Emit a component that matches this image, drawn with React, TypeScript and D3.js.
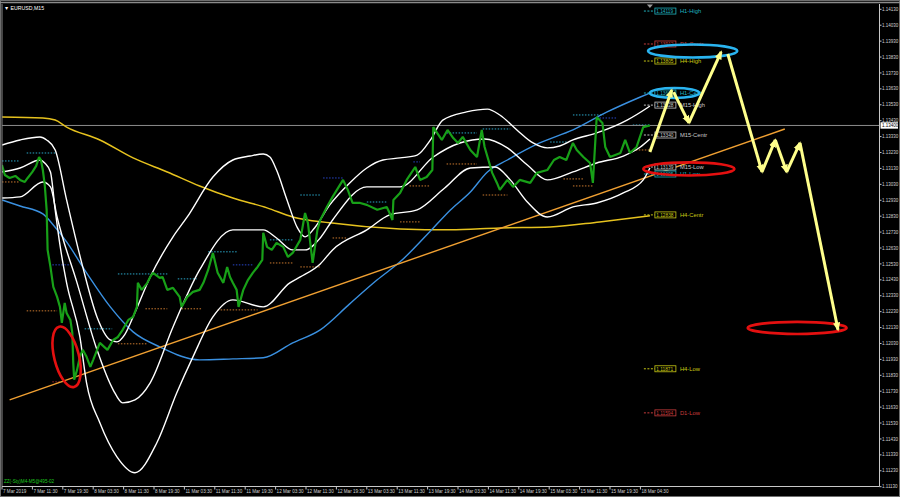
import React from "react";
import * as d3 from "d3";

type P = [number, number];

// ---------- DATA (x = M15 bar index from chart's left edge, y = price) ----------
const symbol = "EURUSD,M15";
const indicatorCaption = "ZZ(-Sty)M4-M5@495-02";

const timeLabels = [
  "7 Mar 2019", "7 Mar 11:30", "7 Mar 19:30", "8 Mar 03:30", "8 Mar 11:30", "8 Mar 19:30",
  "11 Mar 03:30", "11 Mar 11:30", "11 Mar 19:30", "12 Mar 03:30", "12 Mar 11:30", "12 Mar 19:30",
  "13 Mar 03:30", "13 Mar 11:30", "13 Mar 19:30", "14 Mar 03:30", "14 Mar 11:30", "14 Mar 19:30",
  "15 Mar 03:30", "15 Mar 11:30", "15 Mar 19:30", "18 Mar 04:30",
];
const timeLabelBars = [0, 32, 64, 96, 128, 160, 192, 224, 256, 288, 320, 352, 384, 416, 448, 480, 512, 544, 576, 608, 640, 672];

const priceTicks = [
  1.1113, 1.1123, 1.1133, 1.1143, 1.1153, 1.1163, 1.1173, 1.1183, 1.1193, 1.1203, 1.1213,
  1.1223, 1.1233, 1.1243, 1.1253, 1.1263, 1.1273, 1.1283, 1.1293, 1.1303, 1.1313,
  1.1323, 1.1333, 1.1343, 1.1353, 1.1363, 1.1373, 1.1383, 1.1393, 1.1403, 1.1413,
];

const closes: P[] = [
  [0, 1.13152], [3, 1.13089], [8, 1.1307], [14, 1.13083], [19, 1.13058], [24, 1.13045], [27, 1.1307],
  [32, 1.13108], [36, 1.13146], [39, 1.13202], [41, 1.13183], [43, 1.1312], [45, 1.13026], [47, 1.1287],
  [48, 1.12618], [51, 1.12511], [54, 1.12386], [58, 1.12323], [61, 1.1226], [63, 1.1216], [66, 1.12285],
  [68, 1.12222], [72, 1.12178], [74, 1.12096], [75, 1.11908], [76, 1.11802], [79, 1.11864], [82, 1.11946],
  [85, 1.1199], [89, 1.11946], [93, 1.11883], [96, 1.11927], [103, 1.12034], [111, 1.1199], [117, 1.12052],
  [122, 1.12071], [127, 1.12116], [133, 1.12178], [138, 1.12197], [142, 1.1226], [143, 1.12411], [147, 1.12367],
  [153, 1.12411], [156, 1.12448], [159, 1.12474], [166, 1.12442], [169, 1.12448], [174, 1.12367], [180, 1.1238],
  [187, 1.12323], [189, 1.1226], [195, 1.12323], [201, 1.12354], [208, 1.12367], [212, 1.12411], [217, 1.12492],
  [222, 1.12599], [227, 1.12474], [233, 1.12411], [237, 1.12511], [240, 1.12448], [243, 1.12411], [247, 1.12367],
  [249, 1.1226], [254, 1.12367], [259, 1.1243], [264, 1.12474], [269, 1.12511], [274, 1.12555], [275, 1.12725],
  [279, 1.12637], [284, 1.12618], [289, 1.12662], [296, 1.12637], [301, 1.12574], [306, 1.12599], [314, 1.12681],
  [319, 1.1285], [322, 1.12788], [327, 1.12536], [332, 1.12744], [335, 1.12806], [342, 1.12888], [348, 1.12951],
  [359, 1.13058], [364, 1.12995], [369, 1.12913], [377, 1.12913], [384, 1.12901], [395, 1.1287], [405, 1.12888],
  [408, 1.1285], [411, 1.12806], [412, 1.12932], [419, 1.12976], [426, 1.13058], [435, 1.13139], [440, 1.13058],
  [447, 1.13076], [453, 1.1312], [454, 1.1339], [458, 1.13353], [463, 1.13309], [469, 1.13372], [475, 1.13321],
  [480, 1.1329], [485, 1.13328], [493, 1.13246], [500, 1.13202], [505, 1.13372], [508, 1.13265], [516, 1.13102],
  [521, 1.13039], [524, 1.12995], [532, 1.13058], [538, 1.13014], [545, 1.13058], [556, 1.13039], [563, 1.13102],
  [574, 1.1312], [581, 1.13183], [587, 1.13202], [594, 1.13183], [601, 1.1329], [605, 1.13246], [612, 1.13202],
  [619, 1.13164], [622, 1.13039], [626, 1.13453], [632, 1.13416], [635, 1.13265], [640, 1.13202], [651, 1.13227],
  [656, 1.13309], [661, 1.13227], [668, 1.13265], [675, 1.1339], [682, 1.134],
];
const currentPrice = 1.134;

const bandUpper: P[] = [
  [0, 1.13277], [19, 1.13309], [40, 1.13328], [47, 1.13309], [56, 1.13246], [68, 1.12932], [85, 1.12511],
  [100, 1.12197], [114, 1.12052], [121, 1.1204], [129, 1.12084], [138, 1.12197], [156, 1.12448], [180, 1.127],
  [195, 1.12825], [222, 1.13076], [243, 1.13183], [261, 1.13208], [275, 1.13221], [282, 1.13202], [289, 1.1312],
  [300, 1.12932], [311, 1.12756], [319, 1.127], [329, 1.12756], [345, 1.12901], [366, 1.13039], [384, 1.13133],
  [401, 1.13183], [419, 1.13196], [437, 1.13214], [451, 1.13309], [464, 1.13434], [489, 1.13485], [511, 1.13503],
  [524, 1.13466], [542, 1.13372], [559, 1.1329], [574, 1.13259], [587, 1.13271], [601, 1.13309], [626, 1.13353],
  [658, 1.13434], [679, 1.1351], [682, 1.13522],
];
const bandMiddle: P[] = [
  [0, 1.12944], [19, 1.12951], [43, 1.13045], [51, 1.13014], [58, 1.12825], [79, 1.12411], [100, 1.1199],
  [117, 1.11739], [127, 1.11657], [140, 1.11676], [156, 1.11783], [180, 1.12134], [208, 1.12492], [243, 1.12744],
  [275, 1.12744], [289, 1.12693], [306, 1.12618], [319, 1.12618], [335, 1.12693], [348, 1.12806], [384, 1.13014],
  [419, 1.13014], [454, 1.13202], [482, 1.1329], [508, 1.13315], [532, 1.13259], [553, 1.13152], [574, 1.13058],
  [601, 1.13108], [626, 1.13164], [654, 1.13208], [672, 1.13265], [682, 1.13315],
];
const bandLower: P[] = [
  [0, 1.13108], [19, 1.13133], [40, 1.13183], [45, 1.13164], [51, 1.13108], [56, 1.12869], [61, 1.12649],
  [68, 1.12411], [82, 1.12071], [89, 1.11783], [103, 1.11532], [121, 1.11318], [140, 1.11218], [163, 1.11406],
  [184, 1.1172], [201, 1.11946], [222, 1.12197], [243, 1.12304], [275, 1.1226], [303, 1.12411], [314, 1.12448],
  [335, 1.1253], [348, 1.12618], [384, 1.12744], [408, 1.12838], [437, 1.1287], [466, 1.13007], [493, 1.13133],
  [519, 1.13139], [535, 1.13058], [553, 1.12919], [574, 1.12825], [601, 1.12888], [626, 1.12913], [654, 1.12976],
  [675, 1.13058], [682, 1.13133],
];
const maFast: P[] = [
  [0, 1.12932], [19, 1.12894], [43, 1.12844], [54, 1.12775], [68, 1.12668], [89, 1.12474], [114, 1.1226],
  [138, 1.12103], [166, 1.12009], [208, 1.11927], [243, 1.11933], [275, 1.1194], [306, 1.12034], [335, 1.12116],
  [366, 1.12279], [395, 1.1243], [419, 1.12543], [454, 1.12756], [472, 1.12869], [493, 1.12982], [511, 1.13108],
  [532, 1.13183], [566, 1.1329], [601, 1.13372], [637, 1.13485], [672, 1.13579], [682, 1.13604],
];
const maSlow: P[] = [
  [0, 1.13453], [43, 1.13447], [56, 1.13434], [68, 1.1339], [103, 1.13309], [138, 1.13196], [174, 1.13108],
  [208, 1.1302], [243, 1.12944], [279, 1.12882], [306, 1.12825], [345, 1.12788], [419, 1.1275], [472, 1.12744],
  [524, 1.12756], [577, 1.12762], [629, 1.12794], [682, 1.12832],
];
const trendLine: P[] = [[8, 1.11676], [824, 1.13378]];

// pivot-level segments: [startBar, endBar, price]
const cyanLevels: [number, number, number][] = [
  [0, 19, 1.13177], [26, 56, 1.13227], [87, 116, 1.12122], [122, 174, 1.12467], [185, 205, 1.12436],
  [217, 248, 1.12606], [282, 306, 1.12681], [314, 335, 1.12963], [384, 405, 1.12919], [468, 500, 1.13353],
  [506, 535, 1.13378], [577, 595, 1.13296], [601, 633, 1.13466], [664, 682, 1.13403],
];
const orangeLevels: [number, number, number][] = [
  [0, 19, 1.13045], [26, 58, 1.12235], [122, 153, 1.12028], [151, 174, 1.12248], [189, 211, 1.12248],
  [227, 269, 1.12241], [282, 306, 1.12536], [314, 335, 1.12511], [348, 363, 1.12693], [419, 440, 1.12794],
  [429, 451, 1.1302], [468, 500, 1.13158], [506, 532, 1.12963], [591, 612, 1.13064], [601, 622, 1.1302],
  [664, 682, 1.13246],
];
const blueLevels: [number, number, number][] = [
  [53, 72, 1.12524], [243, 264, 1.12524], [338, 359, 1.1307], [433, 440, 1.13171], [629, 647, 1.13447],
];
const redLevels: [number, number, number][] = [[53, 68, 1.11789]];

const pivotNames = ["H1-High", "D1-Centr", "H4-High", "H1-Centr", "M15-High", "M15-Centr", "M15-Low", "H1-Low", "H4-Centr", "H4-Low", "D1-Low"];
const pivotValues = [1.14119, 1.13912, 1.13805, 1.13604, 1.13528, 1.1334, 1.13139, 1.13095, 1.12838, 1.11871, 1.11594];

// forecast arrows: [fromBar, fromPrice, toBar, toPrice]
const arrows: [number, number, number, number][] = [
  [682, 1.13233, 705, 1.13623],
  [707, 1.1361, 723, 1.13416],
  [723, 1.13416, 757, 1.13862],
  [764, 1.13849, 800, 1.13108],
  [800, 1.13108, 814, 1.13309],
  [814, 1.13309, 826, 1.13108],
  [826, 1.13108, 840, 1.1329],
  [840, 1.1329, 880, 1.12116],
];
// ellipses: [centerBar, centerPrice, halfWidthBars, halfHeightPrice]
const cyanEllipses: [number, number, number, number][] = [
  [727, 1.13868, 47, 0.00041],
  [708, 1.13604, 26, 0.00031],
];
const redEllipses: [number, number, number, number][] = [
  [723, 1.13127, 48, 0.00041],
  [837, 1.12128, 52, 0.00038],
  [68, 1.11946, 13, 0.00195],
];

// ---------- STYLE ----------
const levelColor: Record<string, string> = {
  D1: "#c83c3c",
  H4: "#c8c814",
  H1: "#1fb4c0",
  M15: "#c8c8c8",
};
const FONT = "'Liberation Sans', Arial, sans-serif";

export default function App() {
  const x = d3.scaleLinear().domain([0, 924]).range([2, 879.8]);
  const y = d3.scaleLinear().domain([1.1113, 1.1413]).range([486.7, 9.3]);
  const plotL = 2, plotR = 879.5, plotT = 4, plotB = 486.5;

  const smooth = d3.line<P>().x((d) => x(d[0])).y((d) => y(d[1])).curve(d3.curveMonotoneX);
  const straight = d3.line<P>().x((d) => x(d[0])).y((d) => y(d[1]));

  const lastX = x(closes[closes.length - 1][0]);

  const segs = (arr: [number, number, number][], color: string, key: string) =>
    arr.map((s, i) => (
      <line key={key + i} x1={x(s[0])} x2={x(s[1])} y1={y(s[2])} y2={y(s[2])}
        stroke={color} strokeWidth={1} strokeDasharray="1.5,1.5" />
    ));

  const ell = (arr: [number, number, number, number][], color: string, key: string) =>
    arr.map((e, i) => {
      const cx = x(e[0]), cy = y(e[1]);
      const rx = x(e[0] + e[2]) - cx;
      const ry = y(e[1] - e[3]) - cy;
      const vertical = ry > rx;
      return (
        <ellipse key={key + i} cx={cx} cy={cy} rx={rx} ry={ry} fill="none" stroke={color} strokeWidth={2.6}
          transform={vertical ? `rotate(-14 ${cx} ${cy})` : undefined} />
      );
    });

  return (
    <svg width={900} height={497} style={{ display: "block", background: "#000" }} fontFamily={FONT}>
      <style>{`body{margin:0;background:#000;}`}</style>
      <defs>
        <clipPath id="plot">
          <rect x={plotL} y={plotT} width={plotR - plotL} height={plotB - plotT} />
        </clipPath>
        <marker id="ah" viewBox="0 0 10 10" refX="8" refY="5" markerWidth="9" markerHeight="9"
          markerUnits="userSpaceOnUse" orient="auto">
          <path d="M0,1 L10,5 L0,9 z" fill="#ffff8c" />
        </marker>
      </defs>
      <rect x={0} y={0} width={900} height={497} fill="#000" />
      {/* window border */}
      <rect x={0.5} y={0.5} width={899} height={496} fill="none" stroke="#6e6e6e" strokeWidth={1} />
      <line x1={0} x2={900} y1={2.5} y2={2.5} stroke="#8a8a8a" strokeWidth={1.5} />

      <g clipPath="url(#plot)">
        {segs(cyanLevels, "#2aa6c8", "c")}
        {segs(orangeLevels, "#c8782e", "o")}
        {segs(blueLevels, "#2846c8", "b")}
        {segs(redLevels, "#a02828", "r")}

        <line x1={plotL} x2={plotR} y1={y(currentPrice)} y2={y(currentPrice)} stroke="#8c8c8c" strokeWidth={1} />

        <path d={smooth(maSlow) ?? ""} fill="none" stroke="#e6c21e" strokeWidth={1.5} />
        <path d={smooth(maFast) ?? ""} fill="none" stroke="#3a90e0" strokeWidth={1.4} />
        <path d={straight(trendLine) ?? ""} fill="none" stroke="#f0a032" strokeWidth={1.4} />

        <path d={smooth(bandUpper) ?? ""} fill="none" stroke="#ffffff" strokeWidth={1.4} />
        <path d={smooth(bandMiddle) ?? ""} fill="none" stroke="#ffffff" strokeWidth={1.4} />
        <path d={smooth(bandLower) ?? ""} fill="none" stroke="#ffffff" strokeWidth={1.4} />

        <path d={straight(closes) ?? ""} fill="none" stroke="#18a018" strokeWidth={2.2} strokeLinejoin="bevel" />
      </g>

      {/* pivot labels */}
      {pivotNames.map((n, i) => {
        const c = levelColor[n.split("-")[0]];
        const yy = y(pivotValues[i]);
        return (
          <g key={n}>
            <line x1={lastX - 6} x2={lastX + 5} y1={yy} y2={yy} stroke={c} strokeWidth={1} strokeDasharray="2,1.5" />
            <rect x={lastX + 5} y={yy - 3} width={21} height={6} fill="#000" stroke={c} strokeWidth={0.8} />
            <text x={lastX + 6.3} y={yy + 1.8} fontSize={4.8} fill={c}>{pivotValues[i].toFixed(5)}</text>
            <text x={lastX + 30} y={yy + 2} fontSize={5.8} fill={c}>{n}</text>
          </g>
        );
      })}

      {/* annotations */}
      {ell(cyanEllipses, "#2ab4f0", "ce")}
      {ell(redEllipses, "#e41010", "re")}
      {arrows.map((a, i) => (
        <line key={"a" + i} x1={x(a[0])} y1={y(a[1])} x2={x(a[2])} y2={y(a[3])}
          stroke="#ffff8c" strokeWidth={3} markerEnd="url(#ah)" />
      ))}

      {/* shift marker */}
      <path d={`M${lastX - 3},4.5 L${lastX + 3},4.5 L${lastX},8 z`} fill="#9a9a9a" />

      {/* frame */}
      <line x1={plotL} x2={plotL} y1={plotT} y2={plotB} stroke="#8a8a8a" strokeWidth={1} />
      <line x1={plotR} x2={plotR} y1={plotT} y2={plotB} stroke="#c8c8c8" strokeWidth={1} />
      <line x1={plotL} x2={plotR} y1={plotB} y2={plotB} stroke="#c8c8c8" strokeWidth={1} />

      {/* right price axis */}
      {priceTicks.map((t) => (
        <g key={t}>
          <line x1={plotR} x2={plotR + 2} y1={y(t)} y2={y(t)} stroke="#c8c8c8" strokeWidth={1} />
          <text x={plotR + 2.5} y={y(t) + 1.6} fontSize={4.5} fill="#d0d0d0">{t.toFixed(5)}</text>
        </g>
      ))}
      <rect x={plotR + 1} y={y(currentPrice) - 3.2} width={17.5} height={6.4} fill="#ffffff" />
      <text x={plotR + 2.5} y={y(currentPrice) + 1.6} fontSize={4.5} fill="#000">{currentPrice.toFixed(5)}</text>

      {/* bottom time axis */}
      {timeLabels.map((l, i) => (
        <g key={l}>
          <line x1={x(timeLabelBars[i])} x2={x(timeLabelBars[i])} y1={plotB} y2={plotB + 3} stroke="#c8c8c8" strokeWidth={1} />
          <text x={x(timeLabelBars[i]) + 1} y={493} fontSize={4.6} fill="#d0d0d0">{l}</text>
        </g>
      ))}

      {/* captions */}
      <text x={4} y={9.5} fontSize={5.2} fill="#ffffff">{"\u25BC " + symbol}</text>
      <text x={4} y={483} fontSize={4.6} fill="#1ec81e">{indicatorCaption}</text>
    </svg>
  );
}
